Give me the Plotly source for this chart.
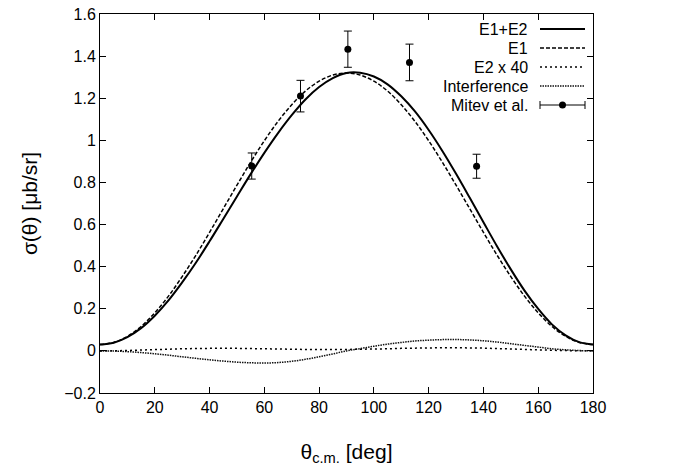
import plotly.graph_objects as go

theta = [0, 5, 10, 15, 20, 25, 30, 35, 40, 45, 50, 55, 60, 65, 70, 75, 80, 85, 90,
         95, 100, 105, 110, 115, 120, 125, 130, 135, 140, 145, 150, 155, 160, 165, 170, 175, 180]

e1e2 = [0.030, 0.039, 0.0655, 0.108, 0.167, 0.2395, 0.325, 0.4185, 0.5205, 0.6265, 0.7335, 0.8395,
        0.9405, 1.0345, 1.1195, 1.194, 1.253, 1.2955, 1.320, 1.321, 1.303, 1.266, 1.209, 1.137,
        1.049, 0.9495, 0.841, 0.727, 0.611, 0.496, 0.387, 0.286, 0.199, 0.126, 0.074, 0.0415, 0.030]

e1 = [0.030, 0.040, 0.069, 0.116, 0.181, 0.260, 0.353, 0.454, 0.563, 0.675, 0.787, 0.896, 0.998,
      1.090, 1.169, 1.234, 1.281, 1.310, 1.320, 1.310, 1.281, 1.234, 1.169, 1.090, 0.998, 0.896,
      0.787, 0.675, 0.563, 0.454, 0.353, 0.260, 0.181, 0.116, 0.069, 0.040, 0.030]

e2x40 = [0.0, 0.0005, 0.002, 0.004, 0.006, 0.008, 0.010, 0.011, 0.012, 0.012, 0.012, 0.011, 0.010,
         0.009, 0.008, 0.007, 0.007, 0.007, 0.007, 0.008, 0.009, 0.010, 0.012, 0.013, 0.014, 0.015,
         0.015, 0.014, 0.013, 0.011, 0.009, 0.007, 0.005, 0.003, 0.0015, 0.0005, 0.0]

interf = [0.0, -0.0008, -0.0035, -0.008, -0.0138, -0.0205, -0.028, -0.0355, -0.0425, -0.0485,
          -0.0535, -0.0565, -0.0575, -0.0555, -0.0495, -0.040, -0.028, -0.0145, 0.0,
          0.011, 0.022, 0.032, 0.040, 0.047, 0.051, 0.0535, 0.054, 0.052, 0.048,
          0.042, 0.034, 0.026, 0.018, 0.010, 0.005, 0.0015, 0.0]

mitev_theta = [55.4, 73.2, 90.5, 113.0, 137.5]
mitev_sigma = [0.878, 1.210, 1.433, 1.370, 0.877]
mitev_err = [0.062, 0.075, 0.086, 0.087, 0.057]

x_ticks = [0, 20, 40, 60, 80, 100, 120, 140, 160, 180]
y_ticks = [-0.2, 0, 0.2, 0.4, 0.6, 0.8, 1, 1.2, 1.4, 1.6]
y_labels = ["−0.2", "0", "0.2", "0.4", "0.6", "0.8", "1", "1.2", "1.4", "1.6"]

legend_names = ["E1+E2", "E1", "E2 x 40", "Interference", "Mitev et al."]

FONT = "Liberation Sans, Arial, Helvetica, sans-serif"

styles = [
    dict(color="black", width=2, dash="solid"),
    dict(color="black", width=1.5, dash="4px,2px"),
    dict(color="black", width=1.5, dash="2px,3px"),
    dict(color="#111111", width=1.5, dash="1.5px,1px"),
]

W, H = 673, 466
ML, MR, MT, MB = 100, 80, 14, 73
PW, PH = W - ML - MR, H - MT - MB

def px(x):
    return (x - ML) / PW

def py(y):
    return (H - MB - y) / PH

fig = go.Figure()
for ys, st in zip([e1e2, e1, e2x40, interf], styles):
    fig.add_trace(go.Scatter(x=theta, y=ys, mode="lines", line=dict(shape="spline", **st),
                             showlegend=False, hoverinfo="skip"))

fig.add_trace(go.Scatter(x=mitev_theta, y=mitev_sigma, mode="markers",
                         marker=dict(color="black", size=7),
                         error_y=dict(type="data", array=mitev_err, color="black", thickness=1, width=4),
                         showlegend=False))

# custom gnuplot-like legend (positions in figure pixels)
row_y = [29, 48, 67, 86, 105]
text_right = 530
line_x0, line_x1 = 540, 585

for i, name in enumerate(legend_names):
    fig.add_annotation(x=px(text_right), y=py(row_y[i]), xref="paper", yref="paper",
                       text=name, showarrow=False, xanchor="right", yanchor="middle",
                       font=dict(family=FONT, size=16, color="black"))
for i, st in enumerate(styles):
    fig.add_shape(type="line", xref="paper", yref="paper",
                  x0=px(line_x0), x1=px(line_x1), y0=py(row_y[i]), y1=py(row_y[i]),
                  line=dict(color=st["color"], width=st["width"], dash=st["dash"]))
ym = row_y[4]
fig.add_shape(type="line", xref="paper", yref="paper", x0=px(line_x0), x1=px(line_x1),
              y0=py(ym), y1=py(ym), line=dict(color="black", width=1))
for xc in (line_x0, line_x1):
    fig.add_shape(type="line", xref="paper", yref="paper", x0=px(xc), x1=px(xc),
                  y0=py(ym - 4), y1=py(ym + 4), line=dict(color="black", width=1))
xm = (line_x0 + line_x1) / 2
fig.add_shape(type="circle", xref="paper", yref="paper",
              x0=px(xm - 3.5), x1=px(xm + 3.5),
              y0=py(ym + 3.5), y1=py(ym - 3.5), fillcolor="black", line=dict(color="black", width=0))

fig.update_layout(
    width=W, height=H,
    margin=dict(l=ML, r=MR, t=MT, b=MB, autoexpand=False),
    plot_bgcolor="white", paper_bgcolor="white",
    font=dict(family=FONT, size=16, color="black"),
    xaxis=dict(
        range=[0, 180], tickvals=x_ticks, ticks="inside", ticklen=6, tickwidth=1,
        tickcolor="black", showline=True, linecolor="black", linewidth=1, mirror="ticks",
        showgrid=False, zeroline=False, automargin=False,
        title=dict(text="θ<sub>c.m.</sub> [deg]", font=dict(size=21), standoff=31),
        tickfont=dict(size=16),
    ),
    yaxis=dict(
        range=[-0.2, 1.6], tickvals=y_ticks, ticktext=y_labels, ticks="inside", ticklen=6,
        tickwidth=1, tickcolor="black", showline=True, linecolor="black", linewidth=1,
        mirror="ticks", showgrid=False, zeroline=False, automargin=False,
        title=dict(text="σ(θ) [μb/sr]", font=dict(size=21), standoff=20),
        tickfont=dict(size=16),
    ),
)

fig.write_html("out.html")
